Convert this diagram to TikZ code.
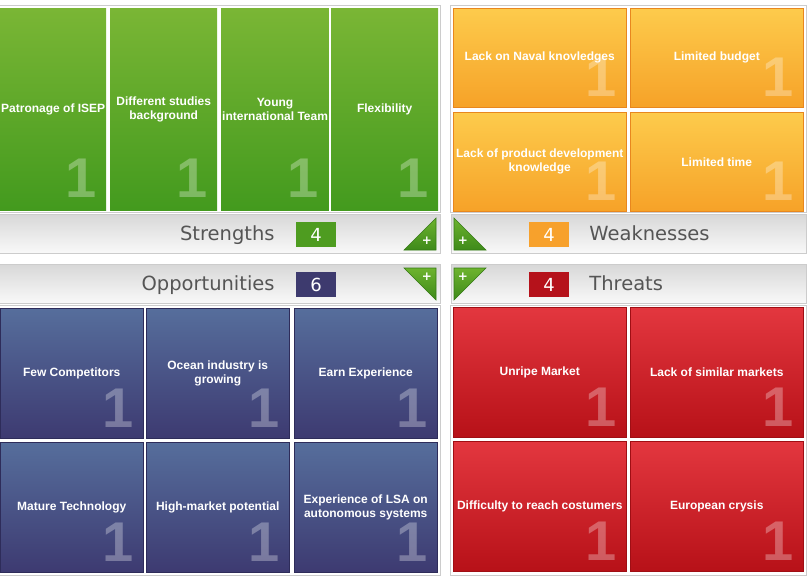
\documentclass[tikz,border=0pt]{standalone}
\usepackage{fontspec}
\setmainfont{Liberation Sans}
\newfontfamily\headfont{DejaVu Sans}
\usetikzlibrary{positioning}

\definecolor{sTop}{HTML}{7AB635}
\definecolor{sBot}{HTML}{439A1E}
\definecolor{wTop}{HTML}{FDCB4C}
\definecolor{wBot}{HTML}{F6A228}
\definecolor{wEdge}{HTML}{E8871E}
\definecolor{oTop}{HTML}{566E9C}
\definecolor{oBot}{HTML}{3D3A71}
\definecolor{oEdge}{HTML}{2E2C5A}
\definecolor{tTop}{HTML}{E3373F}
\definecolor{tBot}{HTML}{B71118}
\definecolor{tEdge}{HTML}{A00E14}
\definecolor{barTop}{HTML}{D8D8D8}
\definecolor{barBot}{HTML}{F9F9F9}
\definecolor{frameGray}{HTML}{CCCCCC}
\definecolor{headText}{HTML}{555555}
\definecolor{numGreen}{HTML}{4E9C20}
\definecolor{numOrange}{HTML}{F7A12C}
\definecolor{numNavy}{HTML}{3D3A6E}
\definecolor{numRed}{HTML}{B5121B}
\definecolor{triTop}{HTML}{6DB32E}
\definecolor{triBot}{HTML}{3E8A1A}
\definecolor{triEdge}{HTML}{347A14}

\tikzset{
  tile/.style={anchor=north west, inner sep=1pt, align=center, text=white,
    font=\bfseries\fontsize{12}{14}\selectfont},
  bigone/.style={anchor=south east, inner sep=0pt, text=white, text opacity=0.3,
    font=\bfseries\fontsize{56}{56}\selectfont},
  panel/.style={draw=frameGray, line width=1pt},
  bar/.style={anchor=north west, draw=frameGray, line width=1pt,
    top color=barTop, bottom color=barBot},
  numbox/.style={minimum width=40pt, minimum height=25pt, inner sep=0pt,
    text=white, font=\headfont\fontsize{18}{18}\selectfont},
  headlbl/.style={inner sep=0pt, text=headText, text height=15pt, text depth=4pt,
    font=\headfont\fontsize{19.5}{20}\selectfont},
  tri/.style={draw=triEdge, line width=0.6pt, top color=triTop, bottom color=triBot},
  plus/.style={inner sep=0pt, text=white, font=\headfont\bfseries\fontsize{12}{12}\selectfont}
}

\begin{document}
\begin{tikzpicture}[x=1pt, y=-1pt]
    \useasboundingbox (0,0) rectangle (812,579);

    % Frames round the four groups
    \draw[panel] (-1,5) rectangle (440,212);
    \draw[panel] (450,5) rectangle (806,212);
    \draw[panel] (-1,305) rectangle (440,575);
    \draw[panel] (450,305) rectangle (806,575);

    % Strengths tiles
    \foreach \i/\x/\w/\txt in {1/0/106/{Patronage of ISEP}, 2/110/107/{Different studies\\background},
        3/221/106/{Young\\international Team}, 4/331/107/{Flexibility}} {
        \node[tile, top color=sTop, bottom color=sBot, minimum width=\w pt, minimum height=202pt] (s\i) at (\x,8) {\txt};
        \node[bigone] at ([xshift=-10pt, yshift=13pt]s\i.south east) {1};
    }

    % Weaknesses tiles
    \foreach \i/\x/\y/\txt in {1/453/8/{Lack on Naval knovledges}, 2/630/8/{Limited budget},
        3/453/112/{Lack of product development\\knowledge}, 4/630/112/{Limited time}} {
        \node[tile, draw=wEdge, line width=0.5pt, top color=wTop, bottom color=wBot, minimum width=173pt, minimum height=99pt] (w\i) at (\x,\y) {\txt};
        \node[bigone] at ([xshift=-10pt, yshift=11pt]w\i.south east) {1};
    }

    % Opportunities tiles
    \foreach \i/\x/\y/\txt in {1/0/308/{Few Competitors}, 2/146/308/{Ocean industry is\\growing}, 3/294/308/{Earn Experience},
        4/0/442/{Mature Technology}, 5/146/442/{High-market potential}, 6/294/442/{Experience of LSA on\\autonomous systems}} {
        \node[tile, draw=oEdge, line width=0.5pt, top color=oTop, bottom color=oBot, minimum width=143pt, minimum height=130pt] (o\i) at (\x,\y) {\txt};
        \node[bigone] at ([xshift=-10pt, yshift=11pt]o\i.south east) {1};
    }

    % Threats tiles
    \foreach \i/\x/\y/\txt in {1/453/307/{Unripe Market}, 2/630/307/{Lack of similar markets},
        3/453/441/{Difficulty to reach costumers}, 4/630/441/{European crysis}} {
        \node[tile, draw=tEdge, line width=0.5pt, top color=tTop, bottom color=tBot, minimum width=173pt, minimum height=130pt] (t\i) at (\x,\y) {\txt};
        \node[bigone] at ([xshift=-10pt, yshift=11pt]t\i.south east) {1};
    }

    % Header bars
    \node[bar, minimum width=441pt, minimum height=39pt] (sbar) at (-1,214) {};
    \node[bar, minimum width=355pt, minimum height=39pt] (wbar) at (451,214) {};
    \node[bar, minimum width=441pt, minimum height=39pt] (obar) at (-1,264) {};
    \node[bar, minimum width=355pt, minimum height=39pt] (tbar) at (451,264) {};

    % Counts and titles
    \node[numbox, fill=numGreen] (snum) at (316,234.5) {4};
    \node[headlbl, left=21pt of snum] (slbl) {Strengths};
    \node[numbox, fill=numOrange] (wnum) at (549,234.5) {4};
    \node[headlbl, right=20pt of wnum] (wlbl) {Weaknesses};
    \node[numbox, fill=numNavy] (onum) at (316,284.5) {6};
    \node[headlbl, left=21pt of onum] (olbl) {Opportunities};
    \node[numbox, fill=numRed] (tnum) at (549,284.5) {4};
    \node[headlbl, right=20pt of tnum] (tlbl) {Threats};

    % Corner triangles with plus signs
    \draw[tri] (404,250) -- (436,218) -- (436,250) -- cycle;
    \node[plus] (splus) at (427,241) {+};
    \draw[tri] (454,218) -- (486,250) -- (454,250) -- cycle;
    \node[plus] (wplus) at (463,241) {+};
    \draw[tri] (404,268) -- (436,268) -- (436,300) -- cycle;
    \node[plus] (oplus) at (427,277) {+};
    \draw[tri] (454,268) -- (486,268) -- (454,300) -- cycle;
    \node[plus] (tplus) at (463,277) {+};
\end{tikzpicture}
\end{document}
